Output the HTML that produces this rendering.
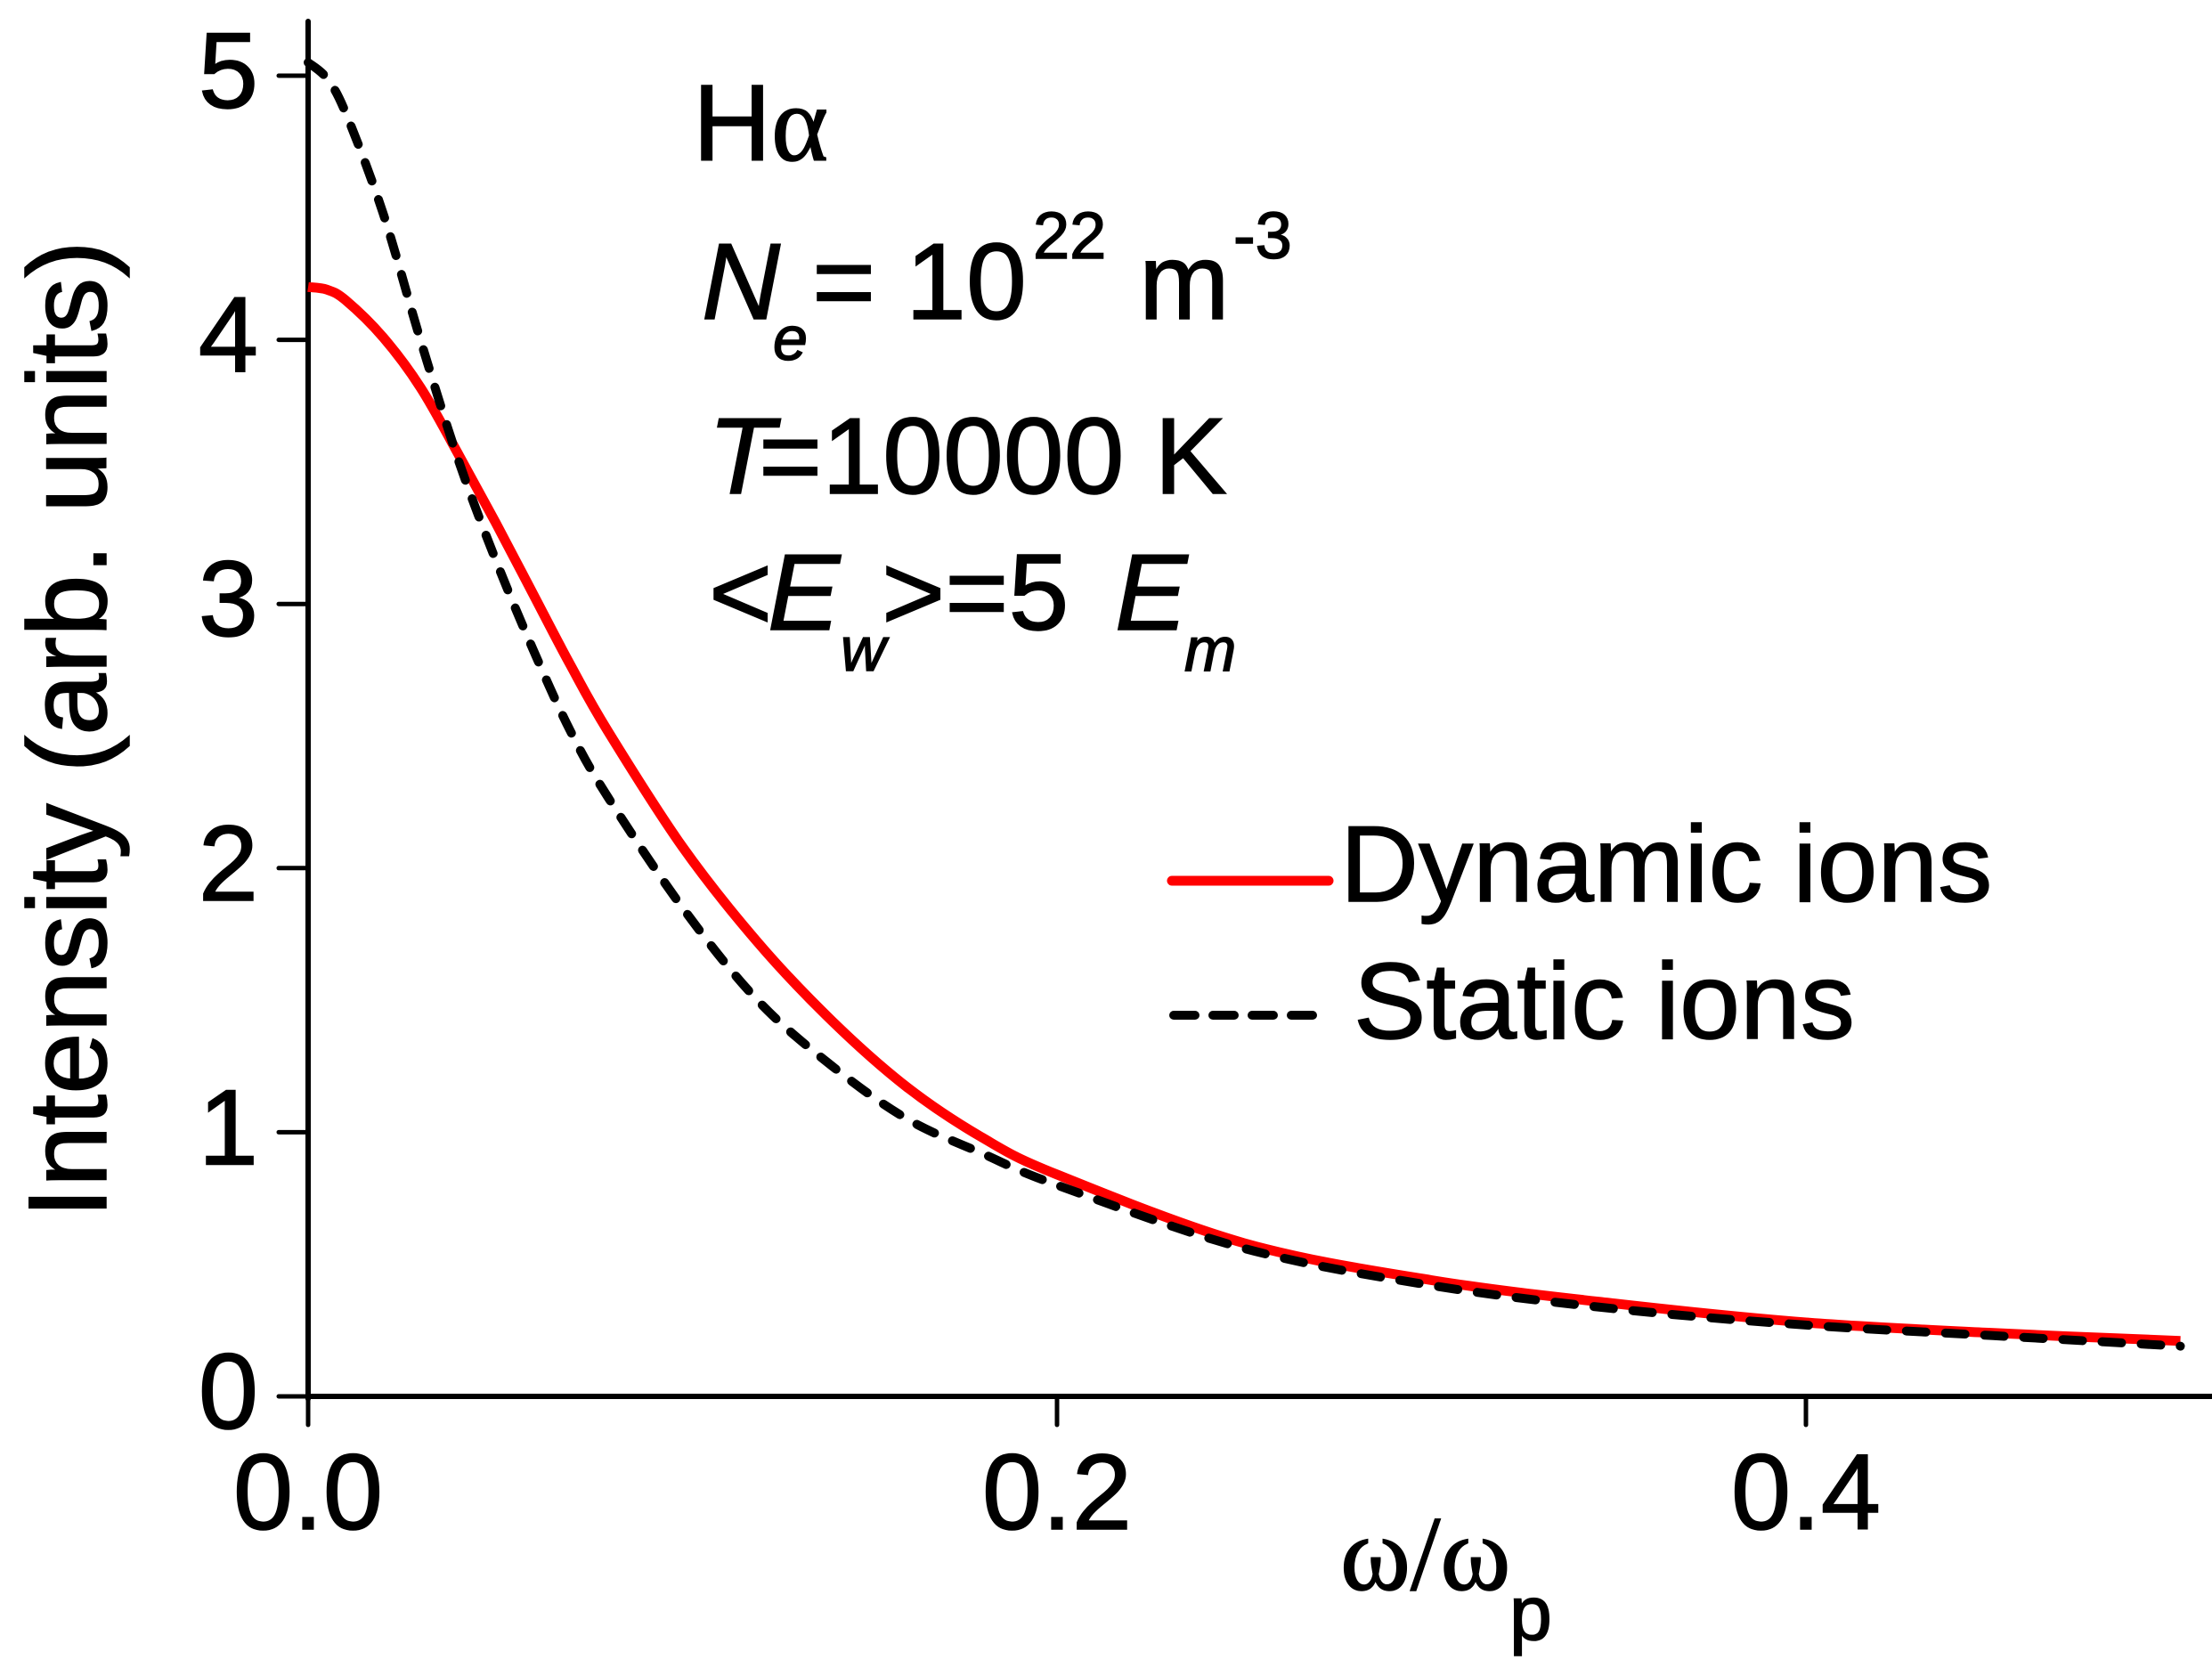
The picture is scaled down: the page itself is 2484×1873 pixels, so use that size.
<!DOCTYPE html>
<html><head><meta charset="utf-8">
<style>
html,body{margin:0;padding:0;background:#fff;}
svg{display:block;}
text{font-family:"Liberation Sans",sans-serif;fill:#000;stroke:#000;stroke-width:1.5px;}
</style></head>
<body>
<svg id="chart" width="2484" height="1873" viewBox="0 0 2484 1873" xmlns="http://www.w3.org/2000/svg">
  <g id="axes"></g>
  <g id="series"></g>
  <g font-size="122">
    <text x="778" y="180">H<tspan font-family="Liberation Serif, serif">α</tspan></text>
    <text y="358"><tspan x="788" font-style="italic">N</tspan><tspan x="868" y="404" font-size="70" font-style="italic">e</tspan><tspan x="912" y="358">= 10</tspan><tspan x="1160" y="290" font-size="74">22</tspan><tspan x="1279" y="358">m</tspan><tspan x="1385" y="290" font-size="74">-3</tspan></text>
    <text y="554"><tspan x="795" font-style="italic">T</tspan><tspan x="852">=10000 K</tspan></text>
    <text y="707"><tspan x="796">&lt;</tspan><tspan x="862" font-style="italic">E</tspan><tspan x="944" y="753" font-size="70" font-style="italic">w</tspan><tspan x="990" y="707">&gt;=5</tspan><tspan x="1252" font-style="italic">E</tspan><tspan x="1330" y="753" font-size="70" font-style="italic">m</tspan></text>
  </g>
  <g>
    <line x1="1316" y1="989" x2="1492" y2="989" stroke="#ff0000" stroke-width="11" stroke-linecap="round"/>
    <text x="1505" y="1012" font-size="122">Dynamic ions</text>
    <line x1="1318" y1="1140" x2="1492" y2="1140" stroke="#000" stroke-width="10" stroke-dasharray="24 20" stroke-linecap="round"/>
    <text x="1520" y="1166" font-size="122">Static ions</text>
  </g>
  <text x="1505" y="1785" font-size="120"><tspan font-family="Liberation Serif, serif">ω/ω</tspan><tspan x="1695" y="1841" font-size="86">p</tspan></text>
  <text transform="translate(119,819) rotate(-90)" text-anchor="middle" font-size="125">Intensity (arb. units)</text>
</svg>
<script>
const xValues = [0, 0.005, 0.01, 0.02, 0.03, 0.04, 0.05, 0.06, 0.07, 0.08, 0.1, 0.12, 0.14, 0.16, 0.18, 0.2, 0.25, 0.3, 0.35, 0.4, 0.45, 0.5];
const dynamicValues = [4.2, 4.19, 4.15, 4.01, 3.82, 3.57, 3.31, 3.04, 2.77, 2.52, 2.08, 1.72, 1.42, 1.17, 0.98, 0.84, 0.58, 0.44, 0.35, 0.28, 0.24, 0.21];
const staticValues = [5.05, 4.99, 4.86, 4.48, 4.0, 3.55, 3.17, 2.83, 2.52, 2.27, 1.85, 1.5, 1.25, 1.05, 0.92, 0.8, 0.56, 0.42, 0.33, 0.27, 0.23, 0.19];
const xTicks = [0, 0.2, 0.4];
const xTickLabels = ["0.0", "0.2", "0.4"];
const yTicks = [0, 1, 2, 3, 4, 5];
const yTickLabels = ["0", "1", "2", "3", "4", "5"];

const NS = "http://www.w3.org/2000/svg";
const X0 = 346, XPER = 4205;
const Y0 = 1568, YPER = 296.6;
function xs(v){ return X0 + v * XPER; }
function ys(v){ return Y0 - v * YPER; }
function mk(tag, attrs, parent){
  const el = document.createElementNS(NS, tag);
  for (const k in attrs) el.setAttribute(k, attrs[k]);
  parent.appendChild(el);
  return el;
}
const axes = document.getElementById("axes");
const series = document.getElementById("series");

const yAxis = mk("line", {x1: X0, y1: 24, x2: X0, y2: Y0 + 3, stroke: "#000", "stroke-width": 6, "stroke-linecap": "round"}, axes);


const xAxis = mk("line", {x1: X0 - 3, y1: Y0, x2: 2484, y2: Y0, stroke: "#000", "stroke-width": 6}, axes);



xTicks.forEach((t, i) => {
  const tk = mk("line", {x1: xs(t), y1: Y0, x2: xs(t), y2: Y0 + 32, stroke: "#000", "stroke-width": 5, "stroke-linecap": "round"}, axes);
  
  
  const lb = mk("text", {x: xs(t), y: 1717, "text-anchor": "middle", "font-size": 121}, axes);
  lb.textContent = xTickLabels[i];
  
  
});
yTicks.forEach((t, i) => {
  const tk = mk("line", {x1: X0 - 33, y1: ys(t), x2: X0, y2: ys(t), stroke: "#000", "stroke-width": 5, "stroke-linecap": "round"}, axes);
  
  
  const lb = mk("text", {x: 290, y: ys(t) + 36, "text-anchor": "end", "font-size": 121}, axes);
  lb.textContent = yTickLabels[i];
  
  
});

function smoothPath(xsArr, vals){
  const p = xsArr.map((x, i) => [xs(x), ys(vals[i])]);
  let d = "M" + p[0][0].toFixed(1) + "," + p[0][1].toFixed(1);
  for (let i = 0; i < p.length - 1; i++){
    const p0 = p[Math.max(0, i - 1)], p1 = p[i], p2 = p[i + 1], p3 = p[Math.min(p.length - 1, i + 2)];
    const c1 = [p1[0] + (p2[0] - p0[0]) / 6, p1[1] + (p2[1] - p0[1]) / 6];
    const c2 = [p2[0] - (p3[0] - p1[0]) / 6, p2[1] - (p3[1] - p1[1]) / 6];
    d += "C" + c1[0].toFixed(1) + "," + c1[1].toFixed(1) + " " + c2[0].toFixed(1) + "," + c2[1].toFixed(1) + " " + p2[0].toFixed(1) + "," + p2[1].toFixed(1);
  }
  return d;
}
const dyn = mk("path", {d: smoothPath(xValues, dynamicValues), fill: "none", stroke: "#ff0000", "stroke-width": 11, "stroke-linejoin": "round"}, series);


const sta = mk("path", {d: smoothPath(xValues, staticValues), fill: "none", stroke: "#000", "stroke-width": 10, "stroke-dasharray": "22 22", "stroke-linecap": "round"}, series);


</script>
</body></html>
